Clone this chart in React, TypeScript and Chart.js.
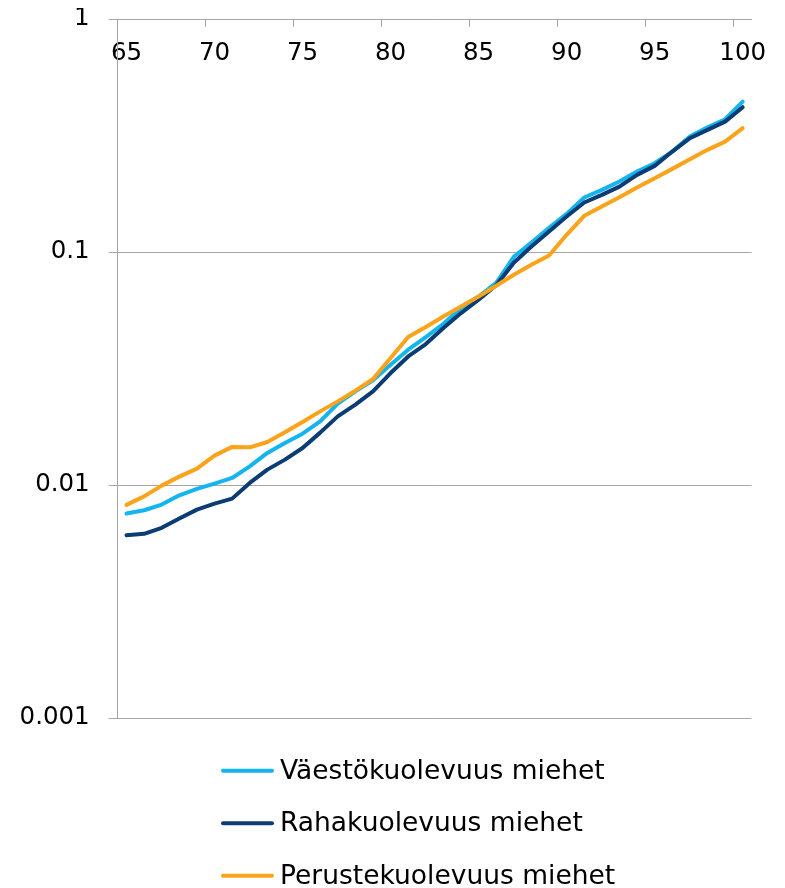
import React, { useEffect, useRef } from 'react';
import { Chart, registerables } from 'chart.js';

Chart.register(...registerables);

const ages = [
  65, 66, 67, 68, 69, 70, 71, 72, 73, 74, 75, 76, 77, 78, 79, 80, 81, 82,
  83, 84, 85, 86, 87, 88, 89, 90, 91, 92, 93, 94, 95, 96, 97, 98, 99, 100,
];

const vaestokuolevuus = [
  0.00754, 0.00779, 0.00824, 0.00903, 0.00962, 0.01014, 0.01072, 0.01203, 0.01373,
  0.01515, 0.01661, 0.01875, 0.02234, 0.02522, 0.02812, 0.03283, 0.03807, 0.04315,
  0.04921, 0.05745, 0.06443, 0.07377, 0.09537, 0.1098, 0.127, 0.1458, 0.1713,
  0.1848, 0.2006, 0.2214, 0.2405, 0.2698, 0.3128, 0.3432, 0.3714, 0.4418,
];

const rahakuolevuus = [
  0.00609, 0.00617, 0.00655, 0.00718, 0.00784, 0.00832, 0.00874, 0.01021, 0.01164,
  0.01285, 0.01442, 0.01678, 0.0197, 0.02212, 0.02522, 0.03024, 0.03563, 0.04027,
  0.04718, 0.0547, 0.06237, 0.07197, 0.0899, 0.1056, 0.1224, 0.142, 0.1631,
  0.1759, 0.1909, 0.2143, 0.2342, 0.2698, 0.3079, 0.3342, 0.3628, 0.4181,
];

const perustekuolevuus = [
  0.00822, 0.00894, 0.00994, 0.01086, 0.01176, 0.01337, 0.01457, 0.01451, 0.0153,
  0.01683, 0.01865, 0.0207, 0.02285, 0.0254, 0.02851, 0.03508, 0.04315, 0.04764,
  0.0529, 0.05839, 0.06443, 0.07162, 0.07984, 0.08812, 0.09661, 0.1185, 0.143,
  0.1567, 0.1719, 0.189, 0.2074, 0.2274, 0.2502, 0.2744, 0.2977, 0.3399,
];

const seriesNames = [
  'Väestökuolevuus miehet',
  'Rahakuolevuus miehet',
  'Perustekuolevuus miehet',
];
const seriesColors = ['#14B4EE', '#0B3C74', '#FAA31B'];

const xTickLabels = ['65', '70', '75', '80', '85', '90', '95', '100'];
const yTickValues = [0.001, 0.01, 0.1, 1];
const yTickLabels = ['0.001', '0.01', '0.1', '1'];

const FONT = '"DejaVu Sans", Verdana, sans-serif';
const GRID = '#A6A6A6';

const stackedLegend = {
  id: 'stackedLegend',
  afterDraw(chart: any) {
    const { ctx, chartArea } = chart;
    ctx.save();
    ctx.font = `26.5px ${FONT}`;
    ctx.textBaseline = 'middle';
    ctx.textAlign = 'left';
    chart.data.datasets.forEach((ds: any, i: number) => {
      const y = chartArea.bottom + 52.7 + i * 52.5;
      ctx.strokeStyle = ds.borderColor;
      ctx.lineWidth = 4;
      ctx.lineCap = 'round';
      ctx.beginPath();
      ctx.moveTo(215, y);
      ctx.lineTo(264, y);
      ctx.stroke();
      ctx.fillStyle = '#000000';
      ctx.fillText(ds.label, 272, y + 1);
    });
    ctx.restore();
  },
};

export default function App() {
  const ref = useRef<HTMLCanvasElement | null>(null);

  useEffect(() => {
    document.documentElement.style.overflow = 'hidden';
    const canvas = ref.current;
    if (!canvas) return;
    const seriesData = [vaestokuolevuus, rahakuolevuus, perustekuolevuus];
    const chart = new Chart(canvas, {
      type: 'line',
      data: {
        labels: ages.map(String),
        datasets: seriesNames.map((name, i) => ({
          label: name,
          data: seriesData[i],
          borderColor: seriesColors[i],
          backgroundColor: seriesColors[i],
          borderWidth: 4,
          borderJoinStyle: 'round',
          borderCapStyle: 'round',
          pointRadius: 0,
          tension: 0,
          fill: false,
          order: 3 - i,
        })),
      },
      options: {
        animation: false,
        responsive: false,
        devicePixelRatio: 1,
        layout: { padding: { top: 11, left: 8, right: 25.5, bottom: 190 } },
        plugins: {
          legend: { display: false },
          tooltip: { enabled: false },
        },
        scales: {
          x: {
            type: 'category',
            position: 'top',
            offset: true,
            grid: {
              offset: true,
              drawOnChartArea: false,
              drawTicks: true,
              tickLength: -8,
              color: GRID,
              lineWidth: (c: any) => (c.index % 5 === 0 ? 1 : 0),
            },
            border: { display: true, color: GRID, width: 1 },
            ticks: {
              autoSkip: false,
              maxRotation: 0,
              minRotation: 0,
              mirror: true,
              padding: 20.3,
              color: '#000000',
              font: { family: FONT, size: 24.5 },
              callback: (_v: any, idx: number) => {
                const lab = String(ages[idx]);
                return xTickLabels.includes(lab) ? lab : '';
              },
            },
            afterFit: (s: any) => {
              s.height = 0;
              s.paddingTop = 0;
              s.paddingBottom = 0;
              s.paddingLeft = 0;
              s.paddingRight = 0;
            },
          },
          y: {
            type: 'logarithmic',
            min: 0.001,
            max: 1,
            grid: { color: GRID, lineWidth: 1, drawTicks: true, tickLength: 9 },
            border: { display: true, color: GRID, width: 1 },
            ticks: {
              padding: 19,
              color: '#000000',
              font: { family: FONT, size: 24.5, lineHeight: 0.8 },
              callback: (v: any) => {
                const i = yTickValues.indexOf(Number(v));
                return i >= 0 ? yTickLabels[i] : '';
              },
            },
            afterBuildTicks: (s: any) => {
              s.ticks = yTickValues.map((value) => ({ value }));
            },
            afterFit: (s: any) => {
              s.width = 101.7;
              s.paddingTop = 0;
              s.paddingBottom = 0;
            },
          },
        },
      } as any,
      plugins: [stackedLegend],
    });
    return () => chart.destroy();
  }, []);

  return (
    <div style={{ width: 769, height: 900 }}>
      <canvas ref={ref} width={769} height={900} style={{ display: 'block' }} />
    </div>
  );
}
